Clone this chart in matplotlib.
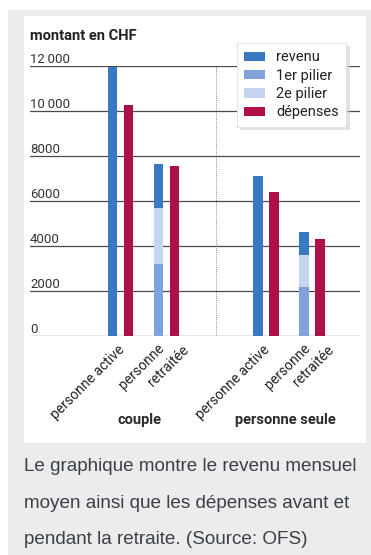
import matplotlib
matplotlib.use("Agg")
import matplotlib.pyplot as plt
import matplotlib.transforms as mtransforms
from matplotlib.patches import Rectangle, Patch
import numpy as np

# Monthly amounts in CHF
groups = ["couple", "personne seule"]
categories = ["personne active", "personne\nretraitée", "personne active", "personne\nretraitée"]
group_of = [0, 0, 1, 1]
revenu = [11950, 7650, 7120, 4610]
pilier1 = [0, 3200, 0, 2190]
pilier2 = [0, 2500, 0, 1410]
depenses = [10270, 7560, 6410, 4300]
yticks = [0, 2000, 4000, 6000, 8000, 10000, 12000]
ytick_labels = ["0", "2000", "4000", "6000", "8000", "10\u2009000", "12\u2009000"]

c_revenu = "#3b78c4"
c_p1 = "#80a3dc"
c_p2 = "#c5d5f0"
c_dep = "#ae0f48"
c_grid = "#4a4a4a"
c_text = "#222222"
c_bg = "#ececec"

plt.rcParams["font.family"] = ["Roboto", "DejaVu Sans"]

W, H = 371, 555
fig = plt.figure(figsize=(W / 100, H / 100), dpi=100)
fig.patch.set_facecolor("white")

def fx(px):
    return px / W

def fy(px):
    return 1 - px / H

# grey card and white chart panel
fig.patches.append(Rectangle((fx(8), fy(555)), fx(363), (555 - 10) / H,
                             transform=fig.transFigure, facecolor=c_bg, edgecolor="none", zorder=-2))
fig.patches.append(Rectangle((fx(24), fy(443)), fx(366 - 24), (443 - 16) / H,
                             transform=fig.transFigure, facecolor="white", edgecolor="none", zorder=-1))

# axes: y=0 at 336px, y=12000 at 66px, x from 30 to 360px
ax = fig.add_axes([fx(30), fy(336), fx(330), (336 - 66) / H])
ax.set_facecolor("none")
ax.set_ylim(0, 12000)

unit = 46.0                  # pixels per category step
gap = 3.163                  # offset of the second group, in category steps
xpos = np.array([i % 2 + g * gap for i, g in enumerate(group_of)], dtype=float)
ax.set_xlim(xpos[0] - (120.5 - 30) / unit, xpos[0] + (360 - 120.5) / unit)
off = 8.0 / unit
bw = 9.5 / unit
ypx = 12000 / 270.0          # data units per pixel vertically

for y in yticks:
    ax.axhline(y, color=c_grid, lw=0.9, zorder=1)
for y, lab in zip(yticks, ytick_labels):
    ax.text(0.0, y + 3 * ypx, lab, transform=ax.get_yaxis_transform(), ha="left", va="baseline",
            fontsize=9.5, color="#333333", zorder=2)

# dotted group divider
xdiv = (xpos[1] + xpos[2]) / 2
ax.plot([xdiv, xdiv], [0, 12000], color="#666666", lw=0.6, ls=(0, (1, 1.5)), zorder=1)

rev = np.array(revenu)
p1 = np.array(pilier1)
p2 = np.array(pilier2)
rest = rev - p1 - p2
ax.bar(xpos - off, p1, bw, color=c_p1, zorder=3)
ax.bar(xpos - off, p2, bw, bottom=p1, color=c_p2, zorder=3)
ax.bar(xpos - off, rest, bw, bottom=p1 + p2, color=c_revenu, zorder=3)
ax.bar(xpos + off, depenses, bw, color=c_dep, zorder=3)

for s in ax.spines.values():
    s.set_visible(False)
ax.set_xticks([])
ax.set_yticks([])

# category labels, rotated 45 degrees; second lines are staggered to the right
for x, lab in zip(xpos, categories):
    lines = lab.split("\n")
    if len(lines) == 1:
        shifts = [(2, 12)]
    else:
        shifts = [(-4, 10), (20, 12)]
    for line, (dx, dy) in zip(lines, shifts):
        ax.text(x + dx / unit, -dy * ypx, line, rotation=45, rotation_mode="anchor",
                ha="right", va="center", fontsize=10, color=c_text, clip_on=False)

# group labels at a fixed height below the axis
lab_tr = mtransforms.blended_transform_factory(ax.transData, fig.transFigure)
for g, name in enumerate(groups):
    gx = xpos[[i for i in range(len(xpos)) if group_of[i] == g]].mean()
    ax.text(gx - 4 / unit, fy(420), name, transform=lab_tr, ha="center", va="center",
            fontsize=10.5, fontweight="bold", color="#2a2a2a")

fig.text(fx(30), fy(36), "montant en CHF", ha="left", va="center", fontsize=10.5,
         fontweight="bold", color="#222222")

handles = [Patch(facecolor=c_revenu), Patch(facecolor=c_p1), Patch(facecolor=c_p2), Patch(facecolor=c_dep)]
labels = ["revenu", "1er pilier", "2e pilier", "dépenses"]
leg = fig.legend(handles, labels, loc="upper left", bbox_to_anchor=(fx(237), fy(43)),
                 frameon=True, fancybox=False, shadow={"color": "0.82", "alpha": 0.6},
                 fontsize=10.5, handlelength=1.4, handleheight=0.6, handletextpad=0.8,
                 labelspacing=0.3, borderpad=0.5, borderaxespad=0)
leg.get_frame().set_edgecolor("#dddddd")
leg.get_frame().set_linewidth(0.6)
for t in leg.get_texts():
    t.set_color("#222222")

caption = ("Le graphique montre le revenu mensuel\n"
           "moyen ainsi que les dépenses avant et\n"
           "pendant la retraite. (Source: OFS)")
fig.text(fx(24), fy(458), caption, ha="left", va="top", fontsize=13.6,
         family=["Liberation Sans", "DejaVu Sans"], color="#3a4049", linespacing=2.5)

fig.savefig("out.png", dpi=100, facecolor=fig.get_facecolor())
